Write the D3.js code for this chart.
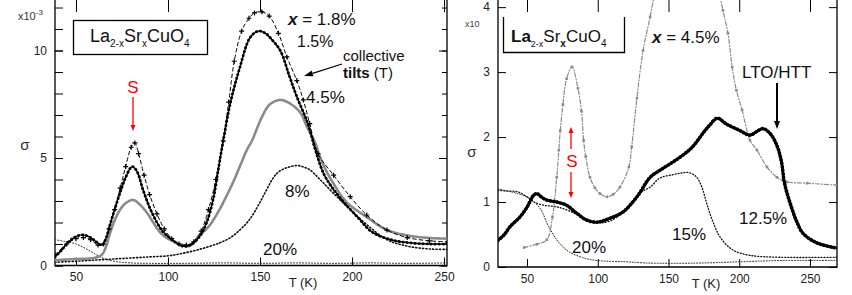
<!DOCTYPE html>
<html>
<head>
<meta charset="utf-8">
<script src="https://d3js.org/d3.v7.min.js"></script>
<style>
  body { margin: 0; background: #fff; }
  svg { display: block; font-family: "Liberation Sans", Arial, sans-serif; }
</style>
</head>
<body>
<div id="chart"></div>
<script>
// ---- data: left panel (units of 1e-3), [T (K), value]
const xTicks = [50, 100, 150, 200, 250]
const leftYLabels = [0, 5, 10]
const leftYMinor = d3.range(0, 13)
const rightYLabels = [0, 1, 2, 3, 4]

const left18 = [[38.6,0.5],[45,1.0],[50,1.25],[54,1.3],[58,1.2],[62,0.95],[65,1.0],[68,1.7],[71,2.6],[74,3.6],[77,4.6],[80,5.5],[82,5.7],[84,5.2],[87,4.2],[90,3.3],[94,2.4],[98,1.7],[102,1.25],[106,1.0],[110,0.95],[114,1.1],[118,1.6],[122,2.6],[126,4.0],[130,5.8],[133,7.6],[136,9.5],[140,10.9],[144,11.5],[147,11.75],[151,11.8],[155,11.6],[160,10.8],[164.6,9.7],[170,8.6],[173.5,7.7],[177,6.6],[181.5,5.2],[190,4.2],[199,3.2],[208,2.35],[219,1.65],[230,1.3],[242,1.15],[252,1.1]]
const left15 = [[38.6,0.4],[42,0.7],[46,1.1],[50,1.35],[54,1.42],[58,1.3],[61,1.1],[64,0.95],[66,1.2],[68.5,1.9],[71,2.6],[74,3.4],[77,4.1],[80.5,4.6],[83,4.4],[86.5,3.5],[90,2.7],[94,2.0],[97,1.6],[101,1.28],[104,1.08],[108,0.9],[112,0.95],[117,1.33],[121,2.0],[124.5,3.05],[127,4.3],[130,5.8],[134,7.6],[139,9.2],[144.6,10.6],[149,10.9],[153,10.8],[156.5,10.5],[161,10.0],[166,8.8],[170,7.85],[176,6.6],[180,5.4],[185,4.2],[193,3.2],[203,2.25],[211,1.55],[222,1.18],[232,1.05],[242,1.0],[252,1.0]]
const left45 = [[38.6,0.25],[50,0.3],[60,0.35],[64,0.5],[66,0.8],[68.5,1.5],[71,2.1],[74,2.6],[77,2.9],[81,3.05],[84.5,2.85],[88.6,2.45],[92,2.0],[95.6,1.55],[99,1.3],[102.7,1.14],[108,0.95],[112,0.92],[117,1.4],[122,1.8],[128,2.6],[131,3.1],[135,3.8],[139,4.6],[143,5.4],[145.6,5.8],[151,6.9],[155.4,7.5],[161,7.7],[166,7.55],[172,7.1],[175.5,6.45],[180,5.7],[182.6,5.05],[186,4.4],[190,3.8],[197,2.95],[208,2.25],[219,1.65],[230,1.4],[242,1.28],[252,1.25]]
const left8 = [[38.6,0.15],[50,0.2],[60,0.25],[70,0.3],[80,0.35],[90,0.4],[100,0.45],[107,0.55],[117,0.75],[128,1.05],[134,1.3],[139,1.65],[143,2.0],[146,2.35],[151.6,3.2],[157,4.05],[160,4.35],[164.6,4.55],[170,4.65],[173,4.6],[177,4.45],[182.6,4.0],[190,3.35],[199,2.6],[208,1.9],[219,1.2],[230,0.9],[242,0.77],[252,0.75]]
const left20 = [[38.6,1.2],[45,1.1],[50,1.0],[55,0.8],[60,0.55],[66,0.3],[72,0.18],[80,0.12],[90,0.1],[110,0.1],[130,0.12],[150,0.1],[170,0.12],[190,0.1],[210,0.12],[230,0.1],[252,0.12]]

// ---- data: right panel, [T (K), value]
const right45 = [[48,0.3],[57,0.35],[64,0.42],[68,0.77],[71,1.38],[72.5,1.8],[73.5,2.1],[75.4,2.5],[78,2.9],[81.8,3.08],[86,2.75],[88.5,2.4],[90,1.95],[91.5,1.7],[94.5,1.38],[98,1.22],[101.6,1.13],[106.5,1.08],[111,1.12],[115.7,1.23],[122,1.54],[124,1.85],[127.7,2.6],[132,3.33],[137,3.85],[142,4.4],[150,5.0],[165,5.4],[178,5.0],[184,4.4],[188.5,3.95],[192,3.6],[195,3.08],[198,2.72],[202,2.42],[207.6,1.95],[212.5,1.8],[219.6,1.54],[226.7,1.38],[233.7,1.31],[248,1.29],[269,1.26]]
const right125 = [[29.5,0.41],[34,0.5],[38,0.62],[45,0.77],[50,0.92],[54.5,1.1],[57,1.13],[60,1.08],[64,1.03],[71,1.0],[78,0.95],[85,0.83],[92.4,0.72],[99.5,0.69],[108.6,0.75],[118,0.85],[127.7,1.08],[137,1.38],[144,1.49],[152,1.6],[160,1.72],[167,1.85],[174.4,2.06],[179,2.18],[184.5,2.29],[191,2.2],[200.5,2.1],[207.6,2.03],[212,2.08],[216.8,2.13],[222,2.05],[227,1.85],[230,1.6],[232,1.29],[236,0.98],[241,0.68],[245,0.52],[255,0.37],[269,0.29]]
const right15 = [[29.5,1.18],[35,1.17],[43,1.16],[50,1.08],[55,1.0],[62,0.95],[70,0.93],[78,0.88],[86,0.8],[94,0.72],[102,0.68],[110,0.72],[118,0.85],[124,0.98],[130,1.14],[137,1.23],[144,1.37],[153,1.42],[160,1.45],[165,1.45],[170,1.38],[173.6,1.23],[177,0.98],[181,0.72],[186.5,0.46],[195.6,0.26],[207.6,0.18],[229,0.15],[269,0.15]]
const right20 = [[29.5,1.2],[40,1.15],[50,1.08],[55,1.0],[60,0.88],[64,0.68],[68,0.52],[71,0.42],[75,0.32],[80,0.23],[90,0.14],[99.5,0.1],[120,0.08],[137,0.06],[170,0.06],[200,0.08],[230,0.1],[269,0.1]]

const width = 852, height = 295
const svg = d3.select('#chart').append('svg')
    .attr('width', width)
    .attr('height', height)

const gray = '#8a8a8a'

// sets up one framed panel and returns its scales
const makePanel = (id, left, right, top, bottom, xDomain, yDomain, yLabels, yMinor) => {
    const x = d3.scaleLinear().domain(xDomain).range([left, right])
    const y = d3.scaleLinear().domain(yDomain).range([bottom, top])

    svg.append('clipPath').attr('id', id)
        .append('rect')
        .attr('x', left).attr('y', top)
        .attr('width', right - left).attr('height', bottom - top)

    const tidy = g => {
        g.select('.domain').remove()
        g.selectAll('line').attr('stroke', '#000')
        g.selectAll('text').attr('fill', '#222').style('font-size', '12px')
            .style('font-family', '"Liberation Sans", Arial, sans-serif')
    }

    svg.append('g').attr('transform', `translate(0,${bottom})`)
        .call(d3.axisBottom(x).tickValues(xTicks).tickSize(-8).tickPadding(7).tickFormat(d3.format('d')))
        .call(tidy)
    svg.append('g').attr('transform', `translate(0,${top})`)
        .call(d3.axisTop(x).tickValues(xTicks).tickSize(-12).tickFormat(''))
        .call(tidy)
    svg.append('g').attr('transform', `translate(${left},0)`)
        .call(d3.axisLeft(y).tickValues(yLabels).tickSize(-8).tickPadding(8).tickFormat(d3.format('d')))
        .call(tidy)
    svg.append('g').attr('transform', `translate(${right},0)`)
        .call(d3.axisRight(y).tickValues(yLabels).tickSize(-8).tickFormat(''))
        .call(tidy)
    if (yMinor) {
        svg.append('g').attr('transform', `translate(${left},0)`)
            .call(d3.axisLeft(y).tickValues(yMinor).tickSize(-8).tickFormat(''))
            .call(tidy)
        svg.append('g').attr('transform', `translate(${right},0)`)
            .call(d3.axisRight(y).tickValues(yMinor).tickSize(-5).tickFormat(''))
            .call(tidy)
    }

    // frame: left, bottom, right
    svg.append('path')
        .attr('d', `M${left},${top}V${bottom}H${right}V${top}`)
        .attr('fill', 'none').attr('stroke', '#000').attr('stroke-width', 1.3)

    const plot = svg.append('g').attr('clip-path', `url(#${id})`)
    return { x, y, plot }
}

const curve = (p, data, stroke, widthPx, dash) => {
    const line = d3.line()
        .x(d => p.x(d[0]))
        .y(d => p.y(d[1]))
        .curve(d3.curveCatmullRom.alpha(0.5))
    return p.plot.append('path')
        .datum(data)
        .attr('d', line)
        .attr('fill', 'none')
        .attr('stroke', stroke)
        .attr('stroke-width', widthPx)
        .attr('stroke-dasharray', dash || null)
        .attr('stroke-linecap', 'round')
}

const text = (x, y, str, size, opts = {}) => svg.append('text')
    .attr('x', x).attr('y', y)
    .attr('fill', opts.fill || '#111')
    .attr('text-anchor', opts.anchor || 'start')
    .style('font-size', size + 'px')
    .style('font-weight', opts.bold ? 'bold' : null)
    .text(str)

const arrow = (x1, y1, x2, y2, color, w, headL, headW) => {
    const a = Math.atan2(y2 - y1, x2 - x1)
    const bx = x2 - headL * Math.cos(a), by = y2 - headL * Math.sin(a)
    svg.append('line')
        .attr('x1', x1).attr('y1', y1).attr('x2', bx).attr('y2', by)
        .attr('stroke', color).attr('stroke-width', w)
    const nx = -Math.sin(a) * headW / 2, ny = Math.cos(a) * headW / 2
    svg.append('path')
        .attr('d', `M${x2},${y2}L${bx + nx},${by + ny}L${bx - nx},${by - ny}Z`)
        .attr('fill', color)
}

// ---------------- left panel
const L = makePanel('clipL', 55, 447, 0, 265.5, [38.6, 251.6], [0, 12.35], leftYLabels, leftYMinor)

curve(L, left20, '#222', 1, '1,2')
curve(L, left8, '#111', 1.6, '1.2,2.2')
curve(L, left45, gray, 2.6, '2.2,1.2')
curve(L, left15, '#000', 1.3)
curve(L, left15, '#000', 2.8, '0.5,3.5')
curve(L, left18, '#000', 1, '3.5,3')
L.plot.selectAll('.plus').data(left18).join('path')
    .attr('class', 'plus')
    .attr('transform', d => `translate(${L.x(d[0])},${L.y(d[1])})`)
    .attr('d', 'M-2.5,0H2.5M0,-2.5V2.5')
    .attr('stroke', '#000').attr('stroke-width', 1.2)

// left title box
svg.append('rect').attr('x', 73.5).attr('y', 20.5).attr('width', 134).attr('height', 34)
    .attr('fill', '#fff').attr('stroke', '#000').attr('stroke-width', 1.3)
const tL = svg.append('text').attr('x', 90).attr('y', 42).style('font-size', '18px').attr('fill', '#111')
tL.append('tspan').text('La')
tL.append('tspan').attr('dy', 5).style('font-size', '10px').text('2-x')
tL.append('tspan').attr('dy', -5).text('Sr')
tL.append('tspan').attr('dy', 5).style('font-size', '10px').text('x')
tL.append('tspan').attr('dy', -5).text('CuO')
tL.append('tspan').attr('dy', 5).style('font-size', '10px').text('4')

const mL = text(18, 20, 'x10', 11, { fill: '#333' })
mL.append('tspan').attr('dy', -5).style('font-size', '8px').text('-3')
text(25, 150, 'σ', 15, { anchor: 'middle', fill: '#333' })
text(303, 287, 'T (K)', 13, { anchor: 'middle', fill: '#222' })

text(133, 93, 'S', 17, { anchor: 'middle', fill: '#f00' })
arrow(133, 97, 133, 131, '#f00', 1.3, 6, 5)

const tx = text(288, 25, '', 17)
tx.append('tspan').style('font-style', 'italic').style('font-weight', 'bold').text('x')
tx.append('tspan').text(' = 1.8%')
text(297, 47, '1.5%', 16)
text(343, 61, 'collective', 15)
const tt = text(343, 78, '', 15)
tt.append('tspan').style('font-weight', 'bold').text('tilts')
tt.append('tspan').text(' (T)')
arrow(342, 64, 304, 76, '#000', 1.3, 9, 6)
text(306, 103, '4.5%', 17)
text(285, 197, '8%', 17)
text(263, 255, '20%', 17)

// ---------------- right panel
const R = makePanel('clipR', 498, 837, 0, 267, [29.5, 269.1], [0, 4.11], rightYLabels, null)

curve(R, right20, '#222', 1, '1,1.8')
curve(R, right15, '#111', 1.3, '1,2')
curve(R, right45, gray, 1.2, '4,2,1,2')
R.plot.selectAll('.sq').data(right45).join('rect')
    .attr('class', 'sq')
    .attr('x', d => R.x(d[0]) - 1.3).attr('y', d => R.y(d[1]) - 1.3)
    .attr('width', 2.6).attr('height', 2.6)
    .attr('fill', gray)
curve(R, right125, '#000', 2.4)
curve(R, right125, '#000', 3.6, '0.5,3')

// right title box (no top edge)
svg.append('path').attr('d', 'M503.5,17V52.5H624.5V17')
    .attr('fill', 'none').attr('stroke', '#000').attr('stroke-width', 1.3)
const tR = svg.append('text').attr('x', 511).attr('y', 42).style('font-size', '17px').attr('fill', '#111')
tR.append('tspan').style('font-weight', 'bold').text('La')
tR.append('tspan').attr('dy', 5).style('font-size', '9px').text('2-x')
tR.append('tspan').attr('dy', -5).text('Sr')
tR.append('tspan').attr('dy', 5).style('font-size', '10px').style('font-weight', 'bold').text('x')
tR.append('tspan').attr('dy', -5).text('CuO')
tR.append('tspan').attr('dy', 5).style('font-size', '10px').text('4')

text(465, 27, 'x10', 9, { fill: '#444' })
text(472, 157, 'σ', 15, { anchor: 'middle', fill: '#333' })
text(706, 288, 'T (K)', 13, { anchor: 'middle', fill: '#222' })

const tx2 = text(652, 43, '', 17)
tx2.append('tspan').style('font-style', 'italic').style('font-weight', 'bold').text('x')
tx2.append('tspan').text(' = 4.5%')
text(742, 78, 'LTO/HTT', 17)
arrow(777, 83, 777, 129, '#000', 2, 8, 6)

text(572, 167, 'S', 17, { anchor: 'middle', fill: '#f00' })
arrow(571, 149, 571, 127, '#f00', 1.3, 6, 5)
arrow(571, 172, 571, 198, '#f00', 1.3, 6, 5)

text(572, 253, '20%', 17)
text(672, 240, '15%', 17)
text(739, 224, '12.5%', 17)
</script>
</body>
</html>
